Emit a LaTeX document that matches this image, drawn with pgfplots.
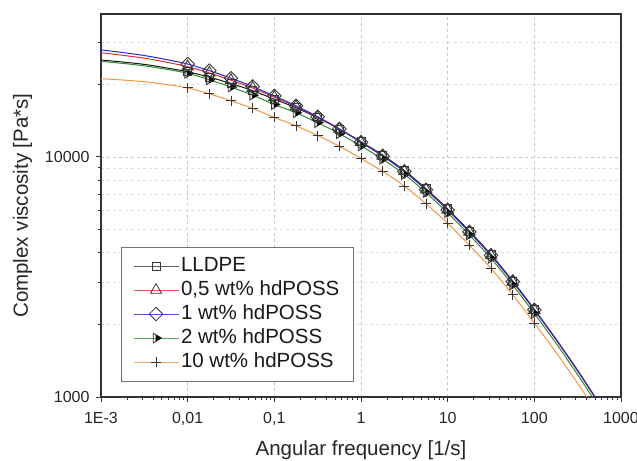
\documentclass[border=0pt]{standalone}
\usepackage{pgfplots}
\usepackage{pgfplotstable}
\pgfplotsset{compat=1.18}
\usepackage{fontspec}
\setmainfont{Liberation Sans}
\definecolor{cBlack}{RGB}{25,25,25}
\definecolor{cRed}{RGB}{225,45,55}
\definecolor{cBlue}{RGB}{40,40,215}
\definecolor{cGreen}{RGB}{45,140,45}
\definecolor{cOrange}{RGB}{245,150,65}
\definecolor{mk}{RGB}{55,55,55}
\pgfdeclareplotmark{halftri}{%
  \pgfpathmoveto{\pgfqpoint{\pgfplotmarksize}{0pt}}%
  \pgfpathlineto{\pgfqpoint{-0.5\pgfplotmarksize}{0.866\pgfplotmarksize}}%
  \pgfpathlineto{\pgfqpoint{-0.5\pgfplotmarksize}{-0.866\pgfplotmarksize}}%
  \pgfpathclose
  \pgfusepathqstroke
  \pgfpathmoveto{\pgfqpoint{\pgfplotmarksize}{0pt}}%
  \pgfpathlineto{\pgfqpoint{-0.1\pgfplotmarksize}{0.635\pgfplotmarksize}}%
  \pgfpathlineto{\pgfqpoint{-0.1\pgfplotmarksize}{-0.635\pgfplotmarksize}}%
  \pgfpathclose
  \pgfusepathqfill
}
\pgfplotsset{legend image code/.code={\draw[mark repeat=2,mark phase=2,#1] plot coordinates {(0bp,0bp) (22.5bp,0bp) (45bp,0bp)};}}
\pgfplotstableread{
x        lldpe  p05    p1     p2     p10
0.001    25290  27100  27860  24970  21130
0.001778 24800  26450  27160  24470  20870
0.003162 24240  25730  26390  23910  20530
0.005623 23460  24770  25410  23140  20000
0.01     22590  23710  24320  22260  19360
0.01778  21450  22330  22830  20920  18280
0.03162  20180  20840  21230  19500  17100
0.05623  18840  19320  19610  18050  15890
0.1      17370  17700  17910  16510  14580
0.1778   16000  16180  16310  15240  13450
0.3162   14530  14600  14670  13880  12260
0.5623   13050  13050  13060  12480  11050
1        11560  11510  11480  11090  9840
1.778    10160  10090  10080  9772   8697
3.162    8766   8688   8688   8453   7551
5.623    7361   7292   7292   7095   6374
10       6067   6012   6012   5846   5284
17.78    4908   4863   4868   4732   4285
31.62    3917   3881   3889   3776   3428
56.23    3041   3016   3023   2927   2663
100      2317   2301   2307   2228   2032
177.8    1741   1732   1738   1675   1534
316.2    1288   1282   1288   1238   1140
562.3    938.6  934.2  938.6  902.6  832.5
}\data
\begin{document}
\begin{tikzpicture}
\begin{axis}[
  scale only axis, width=520bp, height=383bp,
  xmode=log, ymode=log,
  xmin=0.001, xmax=1000, ymin=1000, ymax=39300,
  xtick={0.001,0.01,0.1,1,10,100,1000},
  xticklabels={1E-3,{0,01},{0,1},1,10,100,1000},
  ytick={1000,10000}, yticklabels={1000,10000},
  minor xtick={0.002,0.003,0.004,0.005,0.006,0.007,0.008,0.009,
    0.02,0.03,0.04,0.05,0.06,0.07,0.08,0.09,
    0.2,0.3,0.4,0.5,0.6,0.7,0.8,0.9,
    2,3,4,5,6,7,8,9,20,30,40,50,60,70,80,90,
    200,300,400,500,600,700,800,900},
  minor ytick={2000,3000,4000,5000,6000,7000,8000,9000,20000,30000},
  tick align=outside, xtick pos=bottom, ytick pos=left,
  major tick length=5bp, minor tick length=3bp,
  tick style={draw=black!80, line width=0.8bp},
  xmajorgrids, ymajorgrids, yminorgrids,
  major grid style={dashed, draw=black!22, line width=0.5bp},
  minor grid style={dashed, draw=black!12, line width=0.5bp},
  axis line style={draw=black!80, line width=1.3bp},
  ticklabel style={font=\fontsize{16bp}{19bp}\selectfont, text=black!85},
  xticklabel style={yshift=-7bp},
  yticklabel style={xshift=-3bp},
  label style={font=\fontsize{20.5bp}{24bp}\selectfont, text=black!85},
  xlabel={Angular frequency [1/s]},
  ylabel={Complex viscosity [Pa*s]},
  xlabel style={at={(axis description cs:0.5,-0.154)}, anchor=base},
  ylabel style={at={(axis description cs:-0.1404,0.5)}, anchor=base},
  legend style={at={(axis description cs:0.0379,0.3925)}, anchor=north west,
    draw=black!55, line width=0.8bp, fill=white, inner xsep=12bp, inner ysep=7bp,
    font=\fontsize{20.5bp}{24bp}\selectfont, text=black!90,
    nodes={inner sep=2bp, text height=15bp, text depth=5bp}},
  legend cell align=left,
]
\coordinate (sw) at (rel axis cs:0,0);
% fitted curves
\addplot[cOrange, line width=1bp, smooth, forget plot] table[x=x,y=p10]{\data};
\addplot[cGreen, line width=1bp, smooth, forget plot] table[x=x,y=p2]{\data};
\addplot[cBlack, line width=1bp, smooth, forget plot] table[x=x,y=lldpe]{\data};
\addplot[cRed, line width=1bp, smooth, forget plot] table[x=x,y=p05]{\data};
\addplot[cBlue, line width=1bp, smooth, forget plot] table[x=x,y=p1]{\data};
% measured points
\addplot[only marks, mark=+, mark size=5bp, mark options={draw=mk, line width=0.9bp},
  skip coords between index={0}{4}, skip coords between index={21}{24}, forget plot] table[x=x,y=p10]{\data};
\addplot[only marks, mark=halftri, mark size=5.5bp, mark options={draw=mk, fill=black, line width=0.9bp},
  skip coords between index={0}{4}, skip coords between index={21}{24}, forget plot] table[x=x,y=p2]{\data};
\addplot[only marks, mark=square, mark size=4bp, mark options={draw=mk, line width=0.9bp},
  skip coords between index={0}{4}, skip coords between index={21}{24}, forget plot] table[x=x,y=lldpe]{\data};
\addplot[only marks, mark=triangle, mark size=6.5bp, mark options={draw=mk, line width=0.9bp},
  skip coords between index={0}{4}, skip coords between index={21}{24}, forget plot] table[x=x,y=p05]{\data};
\addplot[only marks, mark=square, mark size=4.8bp, mark options={draw=mk, rotate=45, line width=0.9bp},
  skip coords between index={0}{4}, skip coords between index={21}{24}, forget plot] table[x=x,y=p1]{\data};
% legend
\addlegendimage{cBlack!70, line width=0.9bp, mark=square, mark size=4bp, mark options={draw=mk, line width=0.8bp, solid}}
\addlegendentry{LLDPE}
\addlegendimage{cRed!80, line width=0.9bp, mark=triangle, mark size=6.5bp, mark options={draw=mk, line width=0.8bp, solid}}
\addlegendentry{0,5 wt\% hdPOSS}
\addlegendimage{cBlue!80, line width=0.9bp, mark=square, mark size=4.8bp, mark options={draw=mk, rotate=45, line width=0.8bp, solid}}
\addlegendentry{1 wt\% hdPOSS}
\addlegendimage{cGreen!80, line width=0.9bp, mark=halftri, mark size=5.5bp, mark options={draw=mk, fill=black, line width=0.8bp, solid}}
\addlegendentry{2 wt\% hdPOSS}
\addlegendimage{cOrange!80, line width=0.9bp, mark=+, mark size=5bp, mark options={draw=mk, line width=0.8bp, solid}}
\addlegendentry{10 wt\% hdPOSS}
\end{axis}
\pgfresetboundingbox
\path[use as bounding box] ([shift={(-101bp,-64bp)}]sw) rectangle ([shift={(536bp,397bp)}]sw);
\end{tikzpicture}
\end{document}
